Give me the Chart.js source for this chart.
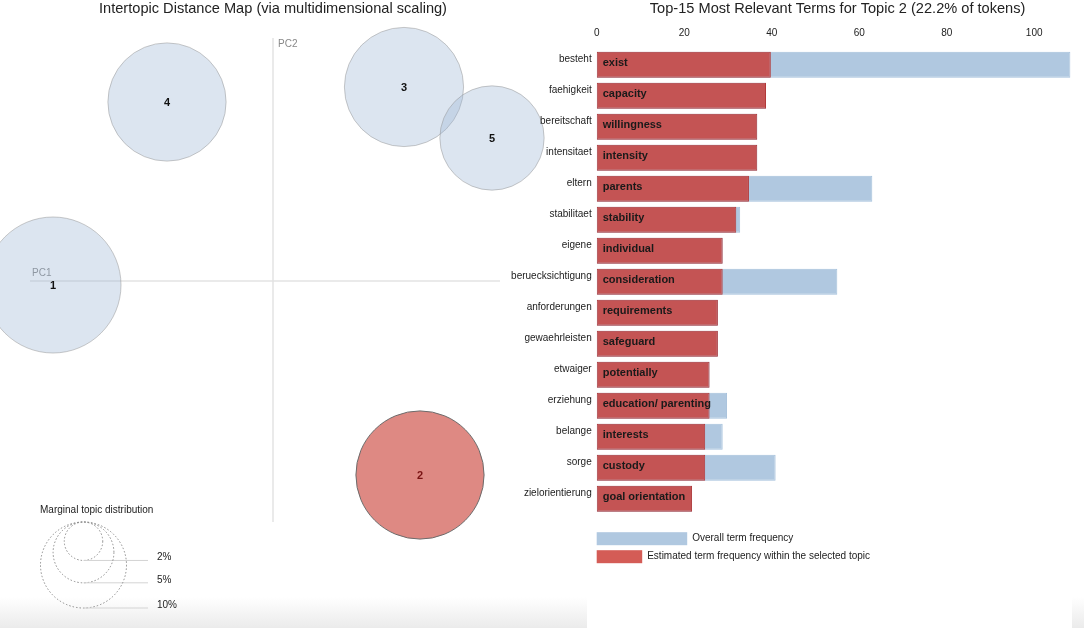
<!DOCTYPE html>
<html>
<head>
<meta charset="utf-8">
<script src="https://cdn.jsdelivr.net/npm/chart.js@4.4.1/dist/chart.umd.min.js"></script>
<style>
  html, body { margin: 0; padding: 0; background: #fff; }
  body { width: 1084px; height: 628px; position: relative; overflow: hidden; }
  canvas { position: absolute; top: 0; }
  #mapChart { left: 0; width: 600px; height: 628px; }
  #barChart { left: 470px; width: 614px; height: 628px; }
  .shade { position: absolute; top: 597px; height: 31px; background: linear-gradient(#fff, #ebebeb); }
</style>
</head>
<body>
<div class="shade" style="left:0;width:587px"></div>
<div class="shade" style="left:1072px;width:12px"></div>
<canvas id="mapChart" width="600" height="628"></canvas>
<canvas id="barChart" width="614" height="628"></canvas>
<script>
const FONT = "'Liberation Sans', Arial, sans-serif";

// topics: MDS coordinates and share of tokens (%)
const topicIds = ['1', '2', '3', '4', '5'];
const pc1 = [-0.220, 0.147, 0.131, -0.106, 0.219];
const pc2 = [-0.004, -0.194, 0.194, 0.179, 0.143];
const topicShare = [25.0, 22.2, 19.2, 18.9, 14.7];
const selectedTopic = 1; // topic 2
const legendShares = [2, 5, 10];

// top terms for topic 2
const terms = ['besteht', 'faehigkeit', 'bereitschaft', 'intensitaet', 'eltern', 'stabilitaet', 'eigene',
  'beruecksichtigung', 'anforderungen', 'gewaehrleisten', 'etwaiger', 'erziehung', 'belange', 'sorge', 'zielorientierung'];
const termLabels = ['exist', 'capacity', 'willingness', 'intensity', 'parents', 'stability', 'individual',
  'consideration', 'requirements', 'safeguard', 'potentially', 'education/ parenting', 'interests', 'custody', 'goal orientation'];
const topicFreq = [39.8, 38.7, 36.7, 36.7, 34.8, 31.9, 28.8, 28.8, 27.7, 27.7, 25.8, 25.8, 24.8, 24.8, 21.8];
const overallFreq = [108.3, 38.7, 36.7, 36.7, 63.0, 32.8, 28.8, 55.0, 27.7, 27.7, 25.8, 29.8, 28.8, 40.9, 21.8];
const freqTicks = [0, 20, 40, 60, 80, 100];

// circle area ~ share
function radius(share) { return 13.6 * Math.sqrt(share); }

const mapPlugin = {
  id: 'mapDecor',
  beforeDatasetsDraw(chart) {
    const { ctx, chartArea: a, scales: { x, y } } = chart;
    const x0 = x.getPixelForValue(0), y0 = y.getPixelForValue(0);
    ctx.save();
    ctx.strokeStyle = '#e3e3e3';
    ctx.lineWidth = 1.5;
    ctx.beginPath();
    ctx.moveTo(a.left, y0); ctx.lineTo(a.right, y0);
    ctx.moveTo(x0, a.top); ctx.lineTo(x0, a.bottom);
    ctx.stroke();
    ctx.fillStyle = '#888';
    ctx.font = '10px ' + FONT;
    ctx.textBaseline = 'bottom';
    ctx.fillText('PC1', a.left + 2, y0 - 3);
    ctx.textBaseline = 'top';
    ctx.fillText('PC2', x0 + 5, a.top + 1);
    ctx.fillStyle = '#222';
    ctx.font = '14.6px ' + FONT;
    ctx.textAlign = 'center';
    ctx.textBaseline = 'middle';
    ctx.fillText('Intertopic Distance Map (via multidimensional scaling)', x0, 9);
    ctx.restore();
  },
  afterDatasetsDraw(chart) {
    const { ctx } = chart;
    const meta = chart.getDatasetMeta(0);
    ctx.save();
    ctx.font = 'bold 11px ' + FONT;
    ctx.textAlign = 'center';
    ctx.textBaseline = 'middle';
    meta.data.forEach((pt, i) => {
      ctx.fillStyle = i === selectedTopic ? '#7a1414' : '#111';
      ctx.fillText(topicIds[i], pt.x, pt.y + 1);
    });

    // marginal topic distribution key
    const lx = 83.5, top = 522;
    ctx.font = '10px ' + FONT;
    ctx.textAlign = 'left';
    ctx.fillStyle = '#222';
    ctx.fillText('Marginal topic distribution', 40, 510);
    legendShares.forEach(s => {
      const r = radius(s);
      ctx.setLineDash([1.5, 2]);
      ctx.strokeStyle = '#8a8a8a';
      ctx.lineWidth = 1;
      ctx.beginPath();
      ctx.arc(lx, top + r, r, 0, Math.PI * 2);
      ctx.stroke();
      ctx.setLineDash([]);
      ctx.strokeStyle = '#d4d4d4';
      ctx.beginPath();
      ctx.moveTo(lx, top + 2 * r); ctx.lineTo(148, top + 2 * r);
      ctx.stroke();
      ctx.fillText(s + '%', 157, top + 2 * r - 3);
    });
    ctx.restore();
  }
};

new Chart(document.getElementById('mapChart'), {
  type: 'bubble',
  data: {
    datasets: [{
      data: topicIds.map((id, i) => ({ x: pc1[i], y: pc2[i], r: radius(topicShare[i]) })),
      backgroundColor: topicIds.map((id, i) => i === selectedTopic ? 'rgb(222,137,131)' : 'rgba(154,181,212,0.35)'),
      borderColor: topicIds.map((id, i) => i === selectedTopic ? '#6b6b6b' : 'rgba(150,150,150,0.5)'),
      borderWidth: 1,
      clip: false
    }]
  },
  options: {
    responsive: false,
    animation: false,
    events: [],
    layout: { autoPadding: false, padding: { left: 30, right: 100, top: 38, bottom: 106 } },
    scales: {
      x: { type: 'linear', min: -0.243, max: 0.227, display: false },
      y: { type: 'linear', min: -0.241, max: 0.243, display: false }
    },
    plugins: { legend: { display: false }, tooltip: { enabled: false } }
  },
  plugins: [mapPlugin]
});

const barPlugin = {
  id: 'barDecor',
  afterDatasetsDraw(chart) {
    const { ctx, chartArea: a } = chart;
    const meta = chart.getDatasetMeta(0);
    ctx.save();
    ctx.font = 'bold 11px ' + FONT;
    ctx.fillStyle = '#1a1a1a';
    ctx.textAlign = 'left';
    ctx.textBaseline = 'middle';
    meta.data.forEach((bar, i) => ctx.fillText(termLabels[i], a.left + 6, bar.y - 2));

    ctx.font = '14.6px ' + FONT;
    ctx.fillStyle = '#222';
    ctx.textAlign = 'center';
    ctx.fillText('Top-15 Most Relevant Terms for Topic 2 (22.2% of tokens)', (a.left + a.right) / 2 + 4, 9);

    // legend
    ctx.textAlign = 'left';
    ctx.font = '10px ' + FONT;
    ctx.fillStyle = 'rgb(176,200,224)';
    ctx.fillRect(a.left, a.bottom + 18, 90.5, 13);
    ctx.fillStyle = 'rgb(212,92,86)';
    ctx.fillRect(a.left, a.bottom + 36, 45.5, 13);
    ctx.fillStyle = '#222';
    ctx.fillText('Overall term frequency', a.left + 95.5, a.bottom + 24.5);
    ctx.fillText('Estimated term frequency within the selected topic', a.left + 50.5, a.bottom + 42.5);
    ctx.restore();
  }
};

new Chart(document.getElementById('barChart'), {
  type: 'bar',
  data: {
    labels: terms,
    datasets: [{
      label: 'Estimated term frequency within the selected topic',
      data: topicFreq,
      backgroundColor: 'rgb(196,84,84)',
      borderColor: 'rgb(178,58,58)',
      borderWidth: 1,
      borderSkipped: false,
      grouped: false
    }, {
      label: 'Overall term frequency',
      data: overallFreq,
      backgroundColor: 'rgb(176,200,224)',
      borderColor: 'rgb(164,192,219)',
      borderWidth: 1,
      borderSkipped: false,
      grouped: false
    }]
  },
  options: {
    indexAxis: 'y',
    responsive: false,
    animation: false,
    events: [],
    barPercentage: 0.84,
    categoryPercentage: 1,
    layout: { padding: { left: 0, right: 13.5, top: 0, bottom: 113.8 } },
    scales: {
      x: {
        position: 'top',
        min: 0,
        max: Math.max(...overallFreq),
        grid: { display: false, drawTicks: false },
        border: { display: false },
        afterBuildTicks: scale => { scale.ticks = freqTicks.map(v => ({ value: v })); },
        ticks: { padding: 10, color: '#222', font: { family: FONT, size: 10 } },
        afterFit: scale => { scale.height = 49.2; }
      },
      y: {
        grid: { display: false, drawTicks: false },
        border: { display: false },
        ticks: { padding: 5, labelOffset: -5, color: '#222', font: { family: FONT, size: 10 } },
        afterFit: scale => { scale.width = 126.7; }
      }
    },
    plugins: { legend: { display: false }, tooltip: { enabled: false } }
  },
  plugins: [barPlugin]
});
</script>
</body>
</html>
